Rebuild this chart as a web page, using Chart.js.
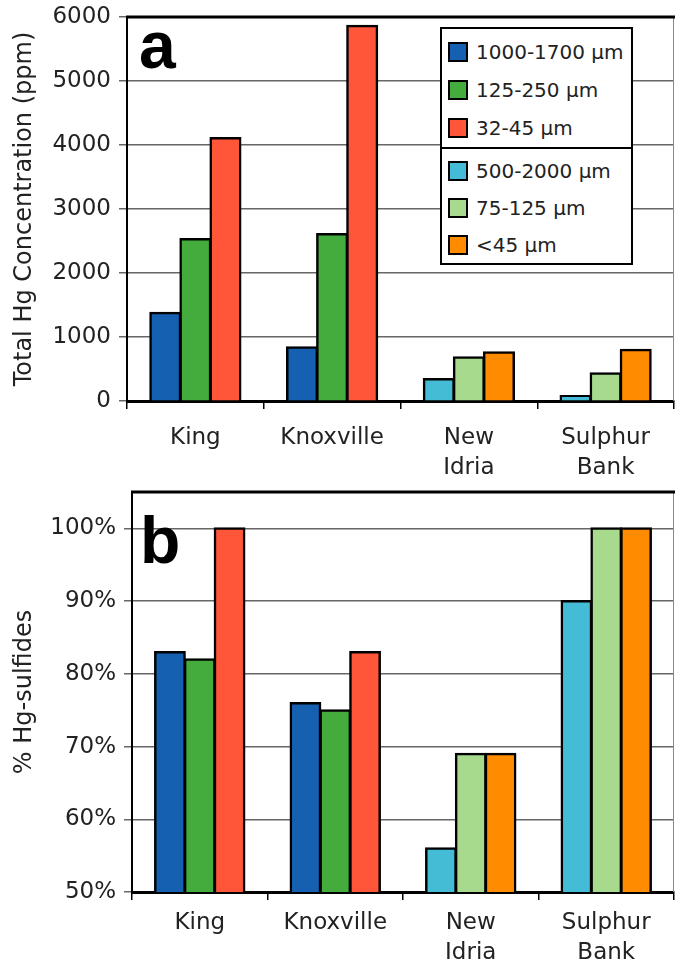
<!DOCTYPE html>
<html>
<head>
<meta charset="utf-8">
<script src="https://cdn.jsdelivr.net/npm/chart.js@4.4.0/dist/chart.umd.min.js"></script>
<style>
  body { margin: 0; background: #fff; overflow: hidden; font-family: "DejaVu Sans", sans-serif; }
  .panel { position: absolute; left: 0; width: 675px; }
  #panelA { top: 0; height: 480px; }
  #panelB { top: 480px; height: 481px; }
  .letter { position: absolute; font: bold 66px "Liberation Sans", Arial, sans-serif; line-height: 1; color: #000; }
  #legend { position: absolute; left: 440px; top: 27px; width: 189px; background: #fff; border: 2px solid #000; }
  #legend .group { padding: 4px 0 0 0; }
  #legend .group + .group { border-top: 2px solid #000; padding-top: 3px; }
  #legend .row { height: 38px; display: flex; align-items: center; font-size: 20px; color: #222; white-space: nowrap; }
  #legend .group + .group .row { height: 37px; }
  #legend .sw { width: 16px; height: 16px; border: 2px solid #000; margin: 0 8px 0 6px; flex: none; }
</style>
</head>
<body>
<div class="panel" id="panelA"><canvas id="chartA" width="675" height="480"></canvas></div>
<div class="panel" id="panelB"><canvas id="chartB" width="675" height="481"></canvas></div>
<div class="letter" style="left:139px; top:12px;">a</div>
<div class="letter" style="left:140px; top:507px;">b</div>
<div id="legend"></div>
<script>
const categories = ['King', 'Knoxville', ['New', 'Idria'], ['Sulphur', 'Bank']];
const seriesNames = ['1000-1700 μm', '125-250 μm', '32-45 μm', '500-2000 μm', '75-125 μm', '<45 μm'];
const seriesColors = ['#1560B0', '#43AC3C', '#FF5538', '#45BCD6', '#A8DA8E', '#FF8C00'];

// total Hg (ppm)
const hg1000 = [1380, 840, null, null];
const hg125  = [2530, 2610, null, null];
const hg32   = [4110, 5865, null, null];
const hg500  = [null, null, 342, 80];
const hg75   = [null, null, 685, 435];
const hg45   = [null, null, 762, 800];
const hgTicks = [0, 1000, 2000, 3000, 4000, 5000, 6000];

// % Hg-sulfides
const pct1000 = [83, 76, null, null];
const pct125  = [82, 75, null, null];
const pct32   = [100, 83, null, null];
const pct500  = [null, null, 56, 90];
const pct75   = [null, null, 69, 100];
const pct45   = [null, null, 69, 100];
const pctTicks = [50, 60, 70, 80, 90, 100];

const font = 'DejaVu Sans';

function makeDatasets(series) {
    return series.map((data, i) => ({
        label: seriesNames[i],
        data: data,
        backgroundColor: seriesColors[i],
        borderColor: '#000',
        borderWidth: 2.5,
        borderSkipped: 'bottom',
        inflateAmount: 1,
        skipNull: true,
        categoryPercentage: 0.66,
        barPercentage: 1.0
    }));
}

// top frame line + thin right edge
const framePlugin = {
    id: 'frame',
    afterDraw(chart) {
        const a = chart.chartArea, c = chart.ctx;
        c.save();
        c.strokeStyle = '#888';
        c.lineWidth = 1;
        c.beginPath();
        c.moveTo(a.right - 0.5, a.top);
        c.lineTo(a.right - 0.5, a.bottom);
        c.stroke();
        c.strokeStyle = '#000';
        c.lineWidth = 3;
        c.beginPath();
        c.moveTo(a.left - 1, a.top);
        c.lineTo(a.right + 2, a.top);
        c.stroke();
        c.restore();
    }
};

function makeConfig(series, o) {
    return {
        type: 'bar',
        data: { labels: categories, datasets: makeDatasets(series) },
        options: {
            responsive: false,
            animation: false,
            layout: { padding: { top: o.top, right: 1, left: 0, bottom: 0 } },
            plugins: { legend: { display: false }, tooltip: { enabled: false } },
            scales: {
                x: {
                    grid: { drawOnChartArea: false, drawTicks: true, tickLength: 8, color: '#000', lineWidth: 1.5, offset: true },
                    border: { color: '#000', width: 3 },
                    ticks: { color: '#222', font: { family: font, size: 23, lineHeight: 1.3 }, padding: o.xPad, maxRotation: 0, autoSkip: false },
                    afterFit(scale) { scale.height = o.xHeight; }
                },
                y: {
                    min: o.min, max: o.max,
                    grid: { color: '#666', lineWidth: 1.5, tickLength: 8 },
                    border: { color: '#000', width: 2 },
                    ticks: {
                        color: '#222', font: { family: font, size: 23 }, padding: 8,
                        callback: o.fmt
                    },
                    afterBuildTicks(scale) { scale.ticks = o.ticks.map(v => ({ value: v })); },
                    title: {
                        display: true, text: o.title, color: '#222',
                        font: { family: font, size: 24 }, padding: { top: 10, bottom: 0 }
                    },
                    afterFit(scale) {
                        scale.width = o.yWidth;
                        scale.paddingTop = 0;
                        scale.paddingBottom = 0;
                    }
                }
            }
        },
        plugins: [framePlugin]
    };
}

new Chart(document.getElementById('chartA'), makeConfig(
    [hg1000, hg125, hg32, hg500, hg75, hg45],
    { top: 17, xHeight: 79, xPad: 14, yWidth: 127, min: 0, max: 6000, ticks: hgTicks,
      fmt: v => String(v), title: 'Total Hg Concentration (ppm)' }
));

new Chart(document.getElementById('chartB'), makeConfig(
    [pct1000, pct125, pct32, pct500, pct75, pct45],
    { top: 12, xHeight: 69, xPad: 8, yWidth: 132, min: 50, max: 105, ticks: pctTicks,
      fmt: v => v + '%', title: '% Hg-sulfides' }
));

// legend, two groups of three
const legend = document.getElementById('legend');
[[0, 1, 2], [3, 4, 5]].forEach(group => {
    const g = document.createElement('div');
    g.className = 'group';
    group.forEach(i => {
        const row = document.createElement('div');
        row.className = 'row';
        const sw = document.createElement('span');
        sw.className = 'sw';
        sw.style.background = seriesColors[i];
        const txt = document.createElement('span');
        txt.textContent = seriesNames[i];
        row.appendChild(sw);
        row.appendChild(txt);
        g.appendChild(row);
    });
    legend.appendChild(g);
});
</script>
</body>
</html>
